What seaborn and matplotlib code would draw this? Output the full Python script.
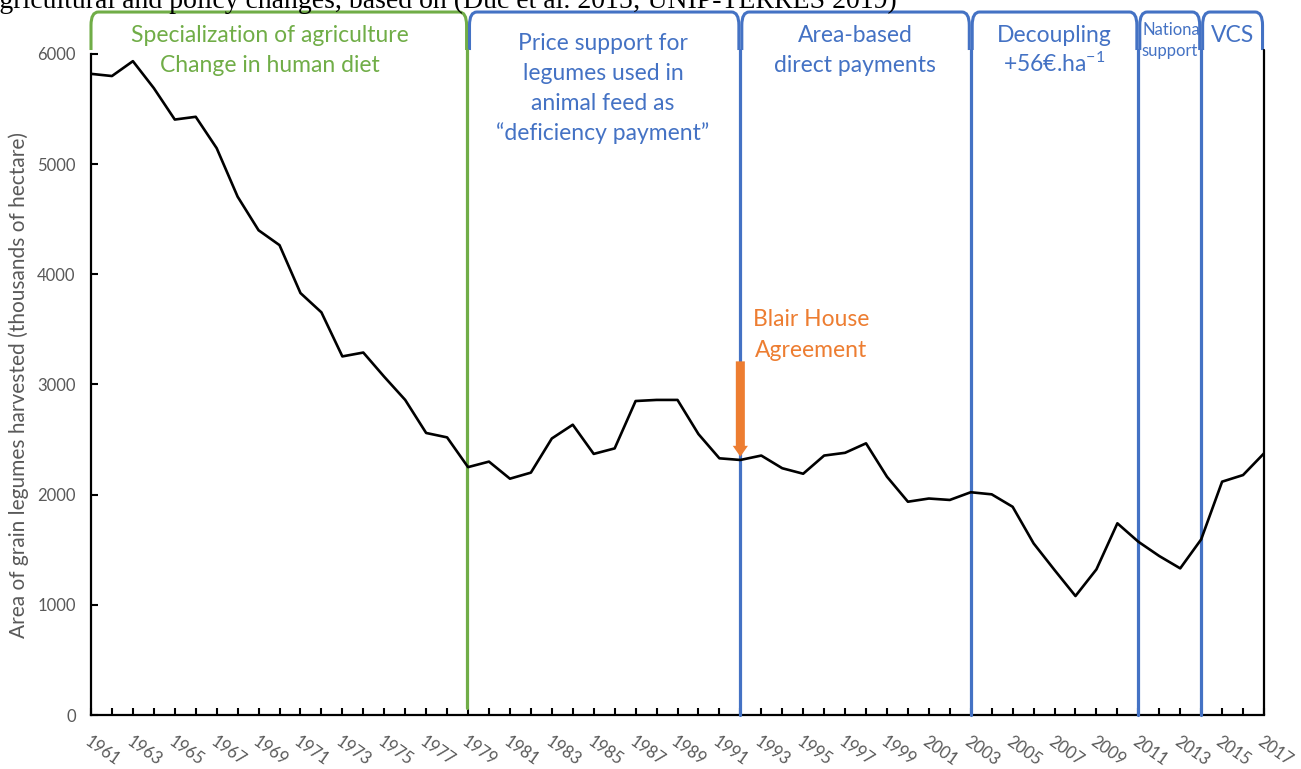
import numpy as np
import pandas as pd
import matplotlib
matplotlib.use("Agg")
import matplotlib.pyplot as plt
import seaborn as sns
from matplotlib.path import Path
from matplotlib.patches import PathPatch
from matplotlib.transforms import Bbox

# ---------------- data ----------------
years = list(range(1961, 2018))
area = [5820, 5800, 5935, 5690, 5405, 5430, 5145, 4705, 4400, 4265,
        3830, 3655, 3255, 3290, 3070, 2860, 2560, 2520, 2250, 2300,
        2145, 2200, 2510, 2635, 2370, 2420, 2850, 2860, 2860, 2550,
        2330, 2315, 2355, 2240, 2190, 2355, 2380, 2466, 2163, 1936,
        1965, 1952, 2022, 2003, 1890, 1558, 1316, 1080, 1322, 1740,
        1573, 1443, 1331, 1594, 2118, 2178, 2375]
label_years = list(range(1961, 2018, 2))
yticks = [0, 1000, 2000, 3000, 4000, 5000, 6000]

period_starts = [1961, 1979, 1992, 2003, 2011, 2014]
period_ends = [1979, 1992, 2003, 2011, 2014, 2017]
period_texts = [
    ["Specialization of agriculture", "Change in human diet"],
    ["Price support for", "legumes used in", "animal feed as", "\u201cdeficiency payment\u201d"],
    ["Area-based", "direct payments"],
    ["Decoupling", "+56\u20ac.ha$^{-1}$"],
    ["National", "support"],
    ["VCS"],
]
blair_year = 1992
blair_from, blair_to = 3210, 2345
blair_text = ["Blair House", "Agreement"]
ylabel = "Area of grain legumes harvested (thousands of hectare)"
caption = "agricultural and policy changes, based on (Duc et al. 2015; UNIP-TERRES 2019)"

GREEN = "#70AD47"
BLUE = "#4472C4"
ORANGE = "#ED7D31"
GRAY = "#595959"

# ---------------- style ----------------
sns.set_theme(style="ticks")
plt.rcParams["font.family"] = ["Lato", "DejaVu Sans"]
plt.rcParams["mathtext.fontset"] = "custom"
plt.rcParams["mathtext.rm"] = "Lato"
plt.rcParams["mathtext.it"] = "Lato:italic"
plt.rcParams["mathtext.bf"] = "Lato:bold"
plt.rcParams["mathtext.default"] = "regular"

W, H = 1301, 769
FS = 16.5
fig = plt.figure(figsize=(W / 100, H / 100), dpi=100)
fig.patch.set_facecolor("white")
ax = fig.add_axes([91 / W, 1 - 715 / H, (1264 - 91) / W, (715 - 54) / H])
ax.set_facecolor("white")

df = pd.DataFrame({"year": years, "area": area})
sns.lineplot(data=df, x="year", y="area", color="black", lw=1.9, ax=ax, zorder=5)

ax.set_xlim(1961, 2017)
ax.set_ylim(0, 6000)
ax.set_xlabel("")
ax.set_ylabel(ylabel, color=GRAY, fontsize=15)
ax.yaxis.set_label_coords(-0.053, 0.5)

for s in ["top", "right"]:
    ax.spines[s].set_visible(False)
for s in ["left", "bottom"]:
    ax.spines[s].set_color("black")
    ax.spines[s].set_linewidth(1.6)

ax.set_yticks(yticks)
ax.set_yticklabels([str(v) for v in yticks])
ax.set_xticks(years)
ax.set_xticklabels([str(y) if y in label_years else "" for y in years])
ax.tick_params(axis="y", direction="in", length=5, width=1.5, pad=11,
               labelsize=12, labelcolor=GRAY, color="black")
ax.tick_params(axis="x", direction="in", length=5, width=1.5, pad=13,
               labelsize=12, labelcolor=GRAY, color="black")
for lab in ax.get_xticklabels():
    lab.set_rotation(-35)
    lab.set_ha("left")
    lab.set_va("top")
    lab.set_rotation_mode("anchor")

# right border line
ax.plot([2017, 2017], [0, 6036], color="black", lw=1.6, clip_on=False, zorder=4)

# ---------------- period brackets ----------------
YTOP, YBOT = 6381, 6036
RX, RY = 0.35, 120


def bracket(x0, x1, color):
    verts = [(x0, YBOT), (x0, YTOP - RY), (x0, YTOP), (x0 + RX, YTOP),
             (x1 - RX, YTOP), (x1, YTOP), (x1, YTOP - RY), (x1, YBOT)]
    codes = [Path.MOVETO, Path.LINETO, Path.CURVE3, Path.CURVE3,
             Path.LINETO, Path.CURVE3, Path.CURVE3, Path.LINETO]
    ax.add_patch(PathPatch(Path(verts, codes), fill=False, ec=color, lw=2.2,
                           clip_on=False, zorder=3))


for i, (a, b) in enumerate(zip(period_starts, period_ends)):
    col = GREEN if i == 0 else BLUE
    x0 = a if i == 0 else a + 0.07
    x1 = b - 0.07
    bracket(x0, x1, col)

# long vertical boundary lines
ax.plot([1978.93, 1978.93], [64, YBOT], color=GREEN, lw=2.3, clip_on=False, zorder=3)
for b in period_starts[2:]:
    ax.plot([b, b], [0, YBOT], color=BLUE, lw=2.3, clip_on=False, zorder=3)


# ---------------- period labels ----------------
def ftext(x, y, s, **kw):
    return fig.text(x / W, 1 - y / H, s, ha="center", va="center", **kw)


ftext(270, 35, period_texts[0][0], color=GREEN, fontsize=FS)
ftext(270, 66, period_texts[0][1], color=GREEN, fontsize=FS)
for j, s in enumerate(period_texts[1]):
    ftext(603, 43 + 30 * j, s, color=BLUE, fontsize=FS)
ftext(855, 35, period_texts[2][0], color=BLUE, fontsize=FS)
ftext(855, 65, period_texts[2][1], color=BLUE, fontsize=FS)
ftext(1054, 35, period_texts[3][0], color=BLUE, fontsize=FS)
ftext(1054, 64, period_texts[3][1], color=BLUE, fontsize=FS)
# national support (clipped to its bracket)
clip = Bbox.from_extents(1142, 0, 1199, H)
t1 = fig.text(1142 / W, 1 - 30 / H, period_texts[4][0], ha="left", va="center",
              color=BLUE, fontsize=12)
t1.set_clip_box(clip)
t1.set_clip_on(True)
ftext(1170, 51, period_texts[4][1], color=BLUE, fontsize=12)
ftext(1233, 35, period_texts[5][0], color=BLUE, fontsize=FS)

# ---------------- Blair House ----------------
ax.annotate("", xy=(blair_year, blair_to), xytext=(blair_year, blair_from),
            arrowprops=dict(arrowstyle="simple,tail_width=0.25,head_width=0.42,head_length=0.3",
                            mutation_scale=26, color=ORANGE, shrinkA=0, shrinkB=0, lw=0),
            zorder=6)
ftext(811, 320, blair_text[0], color=ORANGE, fontsize=FS)
ftext(811, 350, blair_text[1], color=ORANGE, fontsize=FS)

# ---------------- cropped caption at top ----------------
fig.text(897 / W, 1 - 8 / H, caption, ha="right", va="baseline",
         family=["Liberation Serif", "DejaVu Serif"], fontsize=20, color="black")

fig.savefig("out.png", dpi=100)
